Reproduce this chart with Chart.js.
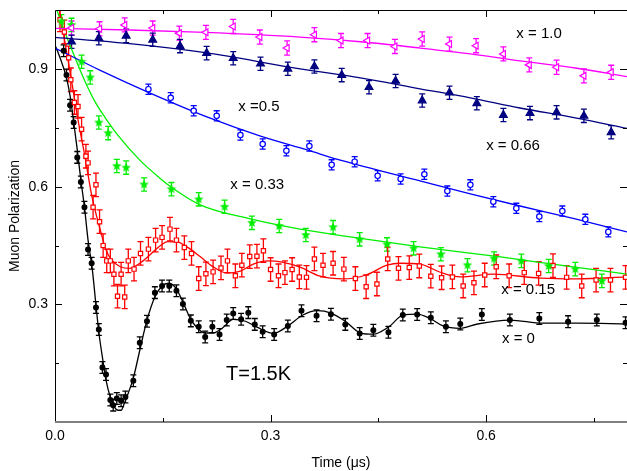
<!DOCTYPE html>
<html>
<head>
<meta charset="utf-8">
<script src="https://cdn.jsdelivr.net/npm/chart.js@4/dist/chart.umd.min.js"></script>
<style>
html, body { margin: 0; padding: 0; background: #fff; }
</style>
</head>
<body>
<canvas id="c" width="627" height="471"></canvas>
<script>
// --- 軸の目盛り ---
const xTicks = [0.0, 0.3, 0.6];
const xMinor = [0.15, 0.45, 0.75];
const yTicks = [0.3, 0.6, 0.9];
const yMinor = [0.15, 0.45, 0.75];

// --- x = 1.0 (magenta) ---
const x10T = [0.023,0.062,0.097,0.136,0.173,0.210,0.248,0.285,0.323,0.361,0.398,0.435,0.473,0.511,0.549,0.586,0.624,0.660,0.698,0.736,0.774];
const x10P = [1.005,1.003,1.013,1.005,0.992,0.994,1.009,0.982,0.954,0.988,0.973,0.973,0.958,0.977,0.964,0.960,0.939,0.911,0.905,0.883,0.892];
const x10FitT = [0,0.104,0.209,0.341,0.425,0.508,0.578,0.647,0.724,0.796];
const x10FitP = [1.004,1.000,0.994,0.982,0.970,0.954,0.939,0.921,0.903,0.881];

// --- x = 0.66 (navy) ---
const x066T = [0.023,0.061,0.099,0.136,0.174,0.211,0.248,0.286,0.324,0.361,0.399,0.437,0.474,0.511,0.549,0.587,0.624,0.661,0.698,0.736,0.774];
const x066P = [0.970,0.979,0.985,0.975,0.959,0.941,0.928,0.914,0.901,0.907,0.885,0.854,0.870,0.820,0.840,0.813,0.783,0.788,0.790,0.781,0.739];
const x066FitT = [0,0.104,0.209,0.341,0.425,0.508,0.578,0.647,0.724,0.796];
const x066FitP = [0.981,0.965,0.942,0.901,0.878,0.850,0.827,0.801,0.776,0.749];

// --- x = 0.5 (blue) ---
const x05T = [0.130,0.161,0.193,0.225,0.258,0.289,0.322,0.354,0.385,0.417,0.449,0.481,0.514,0.546,0.578,0.610,0.642,0.674,0.706,0.738,0.770];
const x05P = [0.849,0.827,0.794,0.781,0.732,0.709,0.692,0.704,0.656,0.664,0.628,0.620,0.632,0.589,0.605,0.562,0.545,0.524,0.538,0.517,0.485];
const x05FitT = [0,0.063,0.130,0.216,0.285,0.351,0.397,0.508,0.578,0.647,0.724,0.796];
const x05FitP = [0.954,0.897,0.841,0.775,0.730,0.694,0.668,0.615,0.582,0.551,0.518,0.485];

// --- x = 0.33 (green) ---
const x033T = [0.009,0.023,0.037,0.049,0.061,0.074,0.086,0.099,0.124,0.162,0.200,0.236,0.274,0.312,0.349,0.387,0.424,0.462,0.499,0.537,0.574,0.611,0.649,0.687,0.724,0.761];
const x033P = [1.022,1.013,0.919,0.879,0.764,0.737,0.653,0.649,0.606,0.594,0.568,0.549,0.508,0.500,0.477,0.497,0.466,0.453,0.443,0.428,0.400,0.417,0.411,0.398,0.390,0.360];
const x033FitT = [0,0.014,0.028,0.042,0.056,0.070,0.086,0.118,0.146,0.162,0.202,0.272,0.341,0.411,0.508,0.620,0.703,0.796];
const x033FitP = [1.064,0.993,0.929,0.868,0.816,0.776,0.735,0.668,0.622,0.599,0.554,0.518,0.492,0.472,0.447,0.421,0.400,0.377];

// --- x = 0.15 (red) ---
const x015T = [0.007,0.013,0.019,0.022,0.027,0.032,0.037,0.043,0.046,0.057,0.053,0.062,0.067,0.072,0.077,0.082,0.087,0.092,0.097,0.102,
  0.110,0.119,0.130,0.140,0.149,0.160,0.169,0.180,0.190,0.200,0.210,0.220,0.231,0.240,0.251,0.260,0.271,0.281,0.290,0.300,
  0.311,0.320,0.330,0.340,0.350,0.361,0.373,0.387,0.402,0.418,0.433,0.448,0.463,0.478,0.493,0.507,0.523,0.538,0.553,0.568,
  0.583,0.598,0.614,0.632,0.653,0.673,0.693,0.712,0.733,0.753,0.773,0.794];
const x015P = [1.026,0.995,0.929,0.873,0.815,0.805,0.747,0.678,0.661,0.605,0.548,0.511,0.450,0.411,0.411,0.377,0.321,0.377,0.319,0.411,
  0.390,0.430,0.441,0.464,0.471,0.492,0.464,0.445,0.430,0.366,0.378,0.383,0.393,0.411,0.373,0.400,0.422,0.423,0.437,0.389,
  0.373,0.381,0.389,0.370,0.369,0.416,0.400,0.405,0.390,0.366,0.345,0.352,0.416,0.392,0.394,0.398,0.372,0.368,0.370,0.347,
  0.355,0.375,0.396,0.373,0.381,0.379,0.399,0.369,0.347,0.362,0.362,0.369];
const x015FitT = [0.003,0.007,0.014,0.024,0.032,0.042,0.051,0.063,0.071,0.079,0.091,0.104,0.118,0.132,0.146,0.157,0.171,0.184,0.202,0.220,
  0.239,0.258,0.276,0.297,0.316,0.341,0.369,0.401,0.433,0.462,0.480,0.508,0.536,0.564,0.610,0.675,0.727,0.796];
const x015FitP = [1.077,1.041,0.967,0.860,0.771,0.674,0.579,0.490,0.439,0.413,0.396,0.392,0.405,0.426,0.449,0.460,0.459,0.446,0.422,0.396,
  0.380,0.385,0.403,0.411,0.408,0.395,0.372,0.365,0.375,0.400,0.405,0.403,0.382,0.370,0.377,0.367,0.365,0.370];

// --- x = 0 (black) ---
const x0T = [0.012,0.016,0.021,0.026,0.031,0.036,0.041,0.046,0.051,0.057,0.061,0.066,0.071,0.077,0.081,0.086,0.092,0.098,0.109,0.118,
  0.128,0.139,0.149,0.159,0.169,0.178,0.189,0.200,0.209,0.219,0.229,0.239,0.248,0.259,0.269,0.278,0.289,0.305,0.324,0.343,
  0.364,0.384,0.404,0.424,0.443,0.464,0.484,0.504,0.523,0.544,0.564,0.594,0.633,0.674,0.714,0.754,0.794];
const x0P = [0.947,0.885,0.808,0.764,0.675,0.612,0.548,0.440,0.405,0.292,0.236,0.139,0.121,0.056,0.043,0.060,0.054,0.064,0.105,0.202,
  0.257,0.330,0.347,0.347,0.335,0.301,0.258,0.243,0.217,0.243,0.223,0.260,0.277,0.262,0.279,0.249,0.230,0.223,0.245,0.284,
  0.271,0.275,0.249,0.226,0.234,0.229,0.273,0.274,0.266,0.243,0.250,0.274,0.260,0.264,0.256,0.260,0.253];
const x0FitT = [0,0.007,0.016,0.021,0.026,0.031,0.036,0.041,0.046,0.052,0.057,0.061,0.067,0.071,0.077,0.082,0.088,0.092,0.096,0.102,
  0.109,0.118,0.128,0.139,0.149,0.158,0.168,0.178,0.188,0.198,0.209,0.220,0.233,0.248,0.265,0.281,0.304,0.324,0.345,0.365,
  0.384,0.404,0.425,0.443,0.464,0.485,0.504,0.522,0.540,0.564,0.588,0.633,0.679,0.727,0.796];
const x0FitP = [0.962,0.929,0.878,0.832,0.765,0.694,0.617,0.548,0.464,0.388,0.298,0.229,0.153,0.107,0.063,0.040,0.030,0.030,0.045,0.074,
  0.112,0.183,0.260,0.319,0.347,0.354,0.342,0.306,0.265,0.240,0.227,0.227,0.240,0.262,0.257,0.242,0.226,0.245,0.273,0.284,
  0.278,0.257,0.227,0.224,0.242,0.273,0.275,0.264,0.245,0.239,0.250,0.260,0.252,0.252,0.250];

// 誤差棒の大きさ (各系列)
const errX10 = 0.018, errX066 = 0.017, errX05 = 0.013, errX033 = 0.017, errX015 = 0.030, errX0 = 0.015;

// 図中のラベル
const noteText = ['x = 1.0', 'x =0.5', 'x = 0.66', 'x = 0.33', 'x = 0.15', 'x = 0', 'T=1.5K'];

// --- ここから描画 ---
const FONT = '"Liberation Sans", Arial, sans-serif';
Chart.defaults.font.family = FONT;
Chart.defaults.color = '#000';

function pts(t, p) { return t.map((v, i) => ({ x: v, y: p[i] })); }

// 緑の星マーカー
function makeStar(r, color) {
  const c = document.createElement('canvas');
  const s = Math.ceil(r * 2 + 2);
  c.width = s; c.height = s;
  const g = c.getContext('2d');
  g.translate(s / 2, s / 2);
  g.beginPath();
  for (let i = 0; i < 10; i++) {
    const rr = i % 2 ? r * 0.45 : r;
    const a = -Math.PI / 2 + i * Math.PI / 5;
    g.lineTo(rr * Math.cos(a), rr * Math.sin(a));
  }
  g.closePath();
  g.fillStyle = color;
  g.fill();
  return c;
}

function fitLine(t, p, color) {
  return {
    data: pts(t, p), showLine: true, pointRadius: 0, borderColor: color,
    borderWidth: 1.3, cubicInterpolationMode: 'monotone', order: 2
  };
}
function marks(t, p, err, color, style) {
  return Object.assign({
    data: pts(t, p), showLine: false, err: err, barColor: color, order: 1,
    pointBorderColor: color, pointBackgroundColor: color, pointBorderWidth: 1.2
  }, style);
}

const datasets = [
  fitLine(x10FitT, x10FitP, '#ff00ff'),
  fitLine(x066FitT, x066FitP, '#000080'),
  fitLine(x05FitT, x05FitP, '#0000ff'),
  fitLine(x033FitT, x033FitP, '#00ee00'),
  fitLine(x015FitT, x015FitP, '#ff0000'),
  fitLine(x0FitT, x0FitP, '#000000'),
  marks(x10T, x10P, errX10, '#ff00ff', { pointStyle: 'triangle', rotation: -90, pointRadius: 4, pointBackgroundColor: '#fff' }),
  marks(x066T, x066P, errX066, '#000080', { pointStyle: 'triangle', pointRadius: 4.5 }),
  marks(x05T, x05P, errX05, '#0000ff', { pointStyle: 'circle', pointRadius: 2.7, pointBackgroundColor: '#fff' }),
  marks(x033T, x033P, errX033, '#00ee00', { pointStyle: makeStar(5, '#00ee00') }),
  marks(x015T, x015P, errX015, '#ff0000', { pointStyle: 'rect', pointRadius: 3, pointBackgroundColor: '#fff' }),
  marks(x0T, x0P, errX0, '#000000', { pointStyle: 'circle', pointRadius: 2.4 })
];

// 誤差棒を描くプラグイン
const errorBars = {
  id: 'errorBars',
  beforeDatasetsDraw(chart) {
    const { ctx, chartArea: a, scales: { x, y } } = chart;
    ctx.save();
    ctx.beginPath();
    ctx.rect(a.left, a.top, a.right - a.left, a.bottom - a.top);
    ctx.clip();
    chart.data.datasets.forEach(ds => {
      if (!ds.err) return;
      ctx.strokeStyle = ds.barColor;
      ctx.lineWidth = 1.3;
      ds.data.forEach(p => {
        const px = x.getPixelForValue(p.x);
        const y1 = y.getPixelForValue(p.y - ds.err);
        const y2 = y.getPixelForValue(p.y + ds.err);
        ctx.beginPath();
        ctx.moveTo(px, y1); ctx.lineTo(px, y2);
        ctx.moveTo(px - 3, y1); ctx.lineTo(px + 3, y1);
        ctx.moveTo(px - 3, y2); ctx.lineTo(px + 3, y2);
        ctx.stroke();
      });
    });
    ctx.restore();
  }
};

// 枠と内向きの目盛り、図中ラベル
const frame = {
  id: 'frame',
  afterDraw(chart) {
    const { ctx, chartArea: a, scales: { x, y } } = chart;
    ctx.save();
    ctx.strokeStyle = '#000';
    ctx.lineWidth = 1;
    ctx.beginPath();
    ctx.moveTo(a.left + 0.5, a.bottom); ctx.lineTo(a.left + 0.5, a.top + 0.5);
    ctx.lineTo(a.right, a.top + 0.5);
    ctx.stroke();
    ctx.strokeStyle = '#808080';
    ctx.lineWidth = 2;
    ctx.beginPath();
    ctx.moveTo(a.left, a.bottom); ctx.lineTo(a.right, a.bottom);
    ctx.stroke();

    ctx.strokeStyle = '#000';
    ctx.lineWidth = 1;
    const tick = (vals, len) => {
      vals.forEach(v => {
        const px = Math.round(x.getPixelForValue(v)) + 0.5;
        ctx.beginPath();
        ctx.moveTo(px, a.bottom); ctx.lineTo(px, a.bottom - len);
        ctx.moveTo(px, a.top); ctx.lineTo(px, a.top + len);
        ctx.stroke();
      });
    };
    const ytick = (vals, len) => {
      vals.forEach(v => {
        const py = Math.round(y.getPixelForValue(v)) + 0.5;
        ctx.beginPath();
        ctx.moveTo(a.left, py); ctx.lineTo(a.left + len, py);
        ctx.moveTo(a.right, py); ctx.lineTo(a.right - len, py);
        ctx.stroke();
      });
    };
    tick(xTicks.slice(1), 7); tick(xMinor, 4);
    ytick(yTicks, 7); ytick(yMinor, 4);

    // ラベル
    const notePos = [[0.642, 0.990], [0.255, 0.804], [0.600, 0.704], [0.244, 0.605], [0.621, 0.337], [0.622, 0.211], [0.238, 0.120]];
    ctx.fillStyle = '#000';
    ctx.textBaseline = 'middle';
    ctx.textAlign = 'left';
    noteText.forEach((s, i) => {
      ctx.font = (i === 6 ? '20px ' : '15px ') + FONT;
      ctx.fillText(s, x.getPixelForValue(notePos[i][0]), y.getPixelForValue(notePos[i][1]));
    });
    ctx.restore();
  }
};

new Chart(document.getElementById('c'), {
  type: 'scatter',
  data: { datasets: datasets },
  options: {
    responsive: false,
    animation: false,
    devicePixelRatio: 1,
    layout: { autoPadding: false, padding: { top: 10, right: 0, left: 0, bottom: 0 } },
    plugins: { legend: { display: false }, tooltip: { enabled: false } },
    scales: {
      x: {
        type: 'linear', min: 0, max: 0.796,
        afterBuildTicks: s => { s.ticks = xTicks.map(v => ({ value: v })); },
        afterFit: s => { s.height = 49; s.paddingLeft = 0; s.paddingRight = 0; },
        ticks: { callback: v => v.toFixed(1), font: { size: 14 }, padding: 6, maxRotation: 0, autoSkip: false },
        grid: { display: false, drawTicks: false },
        border: { display: false },
        title: { display: true, text: 'Time (μs)', font: { size: 14 }, padding: { top: 0, bottom: -1 } }
      },
      y: {
        type: 'linear', min: 0, max: 1.051,
        afterBuildTicks: s => { s.ticks = yTicks.map(v => ({ value: v })); },
        // 上端のラベル分の余白を消して、枠の位置を固定する
        afterFit: s => { s.width = 55; s.paddingTop = 0; s.paddingBottom = 0; },
        ticks: { callback: v => v.toFixed(1), font: { size: 14 }, padding: 7 },
        grid: { display: false, drawTicks: false },
        border: { display: false },
        title: { display: true, text: 'Muon Polarization', font: { size: 14 }, padding: { top: 7, bottom: 0 } }
      }
    }
  },
  plugins: [errorBars, frame]
});
</script>
</body>
</html>
